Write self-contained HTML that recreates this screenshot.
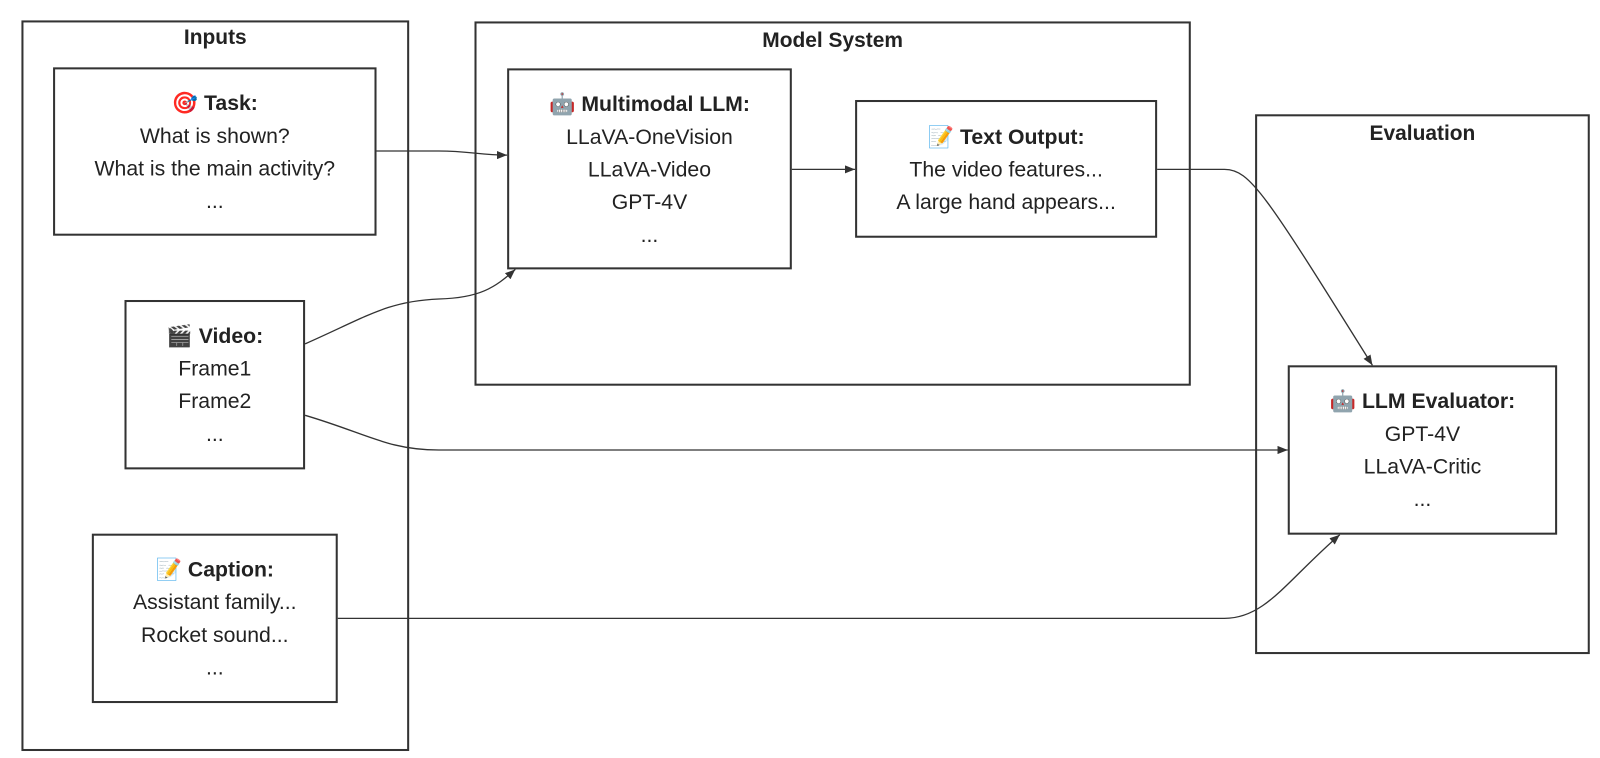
<!DOCTYPE html>
<html><head><meta charset="utf-8"><style>
body{margin:0;width:1600px;height:758px;background:#fff;overflow:hidden;font-family:"Liberation Sans",Arial,sans-serif;color:#222}
#w{position:absolute;left:0;top:0;width:1568px;height:743px;transform:scale(1.0204);transform-origin:0 0}
.b{position:absolute;border:2px solid #333;box-sizing:border-box;background:#fff}
.t{position:absolute;font-weight:bold;font-size:20.5px;text-align:center;width:100%;left:0}
.n{position:absolute;border:2px solid #333;box-sizing:border-box;text-align:center;font-size:20.8px;line-height:32px;display:flex;flex-direction:column;justify-content:center;padding-top:2px}
.n b{font-weight:bold}
svg{position:absolute;left:0;top:0}
</style></head><body><div id="w">
<div class="b" style="left:21px;top:20px;width:380px;height:716px"><div class="t" style="top:3px">Inputs</div></div>
<div class="b" style="left:465px;top:21px;width:702px;height:357px"><div class="t" style="top:5px">Model System</div></div>
<div class="b" style="left:1230px;top:112px;width:328px;height:529px"><div class="t" style="top:5px">Evaluation</div></div>

<div class="n" style="left:52px;top:66px;width:317px;height:165px"><b>🎯 Task:</b><div>What is shown?</div><div>What is the main activity?</div><div>...</div></div>
<div class="n" style="left:122px;top:294px;width:177px;height:166px"><b>🎬 Video:</b><div>Frame1</div><div>Frame2</div><div>...</div></div>
<div class="n" style="left:90px;top:523px;width:241px;height:166px"><b>📝 Caption:</b><div>Assistant family...</div><div>Rocket sound...</div><div>...</div></div>
<div class="n" style="left:497px;top:67px;width:279px;height:197px"><b>🤖 Multimodal LLM:</b><div>LLaVA-OneVision</div><div>LLaVA-Video</div><div>GPT-4V</div><div>...</div></div>
<div class="n" style="left:838px;top:98px;width:296px;height:135px"><b>📝 Text Output:</b><div>The video features...</div><div>A large hand appears...</div></div>
<div class="n" style="left:1262px;top:358px;width:264px;height:166px"><b>🤖 LLM Evaluator:</b><div>GPT-4V</div><div>LLaVA-Critic</div><div>...</div></div>

<svg width="1568" height="743"><defs><marker id="a" markerWidth="10" markerHeight="8" refX="10" refY="4" orient="auto" markerUnits="userSpaceOnUse"><path d="M0,0L10,4L0,8z" fill="#333"/></marker></defs>
<g fill="none" stroke="#333" stroke-width="1.3" marker-end="url(#a)">
<path d="M369,148 L430,148 C460,148 470,152 497,152"/>
<path d="M299,337 C360,310 380,295 430,293 C470,292 485,282 505,264"/>
<path d="M776,166 L838,166"/>
<path d="M1134,166 L1200,166 C1225,166 1240,190 1345,358"/>
<path d="M299,407 C360,425 380,441 430,441 L1262,441"/>
<path d="M331,606 L1200,606 C1240,606 1260,570 1313,524"/>
</g></svg>
</div></body></html>
